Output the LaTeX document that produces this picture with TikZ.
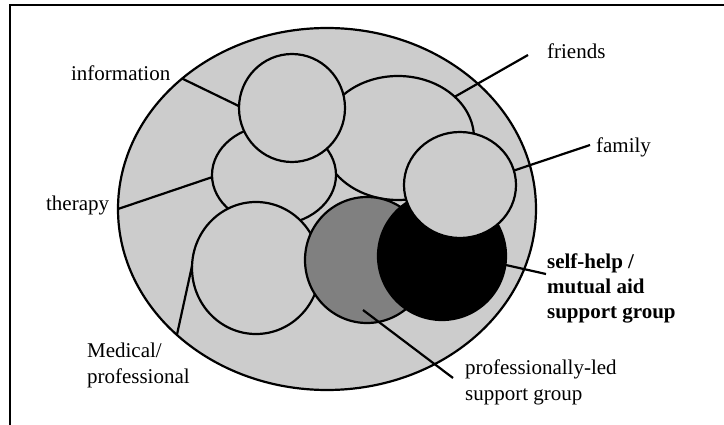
\documentclass[tikz,border=0pt]{standalone}
\usepackage{fontspec}
\setmainfont{Liberation Serif}
\usetikzlibrary{shapes.geometric}
\definecolor{pale}{gray}{0.80}
\definecolor{mid}{gray}{0.50}
\begin{document}
\begin{tikzpicture}[x=1pt,y=-1pt,line width=2.2pt,every node/.style={font=\fontsize{21}{25.5}\selectfont},blob/.style={ellipse,draw,fill=pale,inner sep=0pt,outer sep=0pt},lbl/.style={anchor=base west,inner sep=0pt,align=left}]
\useasboundingbox (0,0) rectangle (724,425);
\draw[line width=2.8pt] (10,425) -- (10,5) -- (724,5);
\node[blob,minimum width=418,minimum height=362] (whole) at (327,209) {};
\node[blob,minimum width=152,minimum height=124] (friends) at (398,138) {};
\node[blob,minimum width=124,minimum height=100] (therapy) at (274,175) {};
\node[blob,minimum width=106,minimum height=108] (info) at (292,108) {};
\node[blob,minimum width=128,minimum height=132] (medical) at (256,268) {};
\node[blob,fill=mid,minimum width=124,minimum height=126] (proled) at (367,260) {};
\node[blob,fill=black,minimum width=128,minimum height=128] (selfhelp) at (442,256) {};
\node[blob,minimum width=112,minimum height=106] (family) at (460,185) {};
\node[lbl] (infolbl) at (70,81) {information};
\node[lbl] (therlbl) at (45,211) {therapy};
\node[lbl] (frlbl) at (546,59) {friends};
\node[lbl] (famlbl) at (595,153) {family};
\node[lbl] (medlbl) at (86,383) {Medical/\\professional};
\node[lbl,font=\fontsize{21}{25.5}\selectfont\bfseries] (shlbl) at (546,319) {self-help /\\mutual aid\\support group};
\node[lbl] (pllbl) at (464,400) {professionally-led\\support group};
\coordinate (frend) at (528,55);
\coordinate (famend) at (590,145);
\coordinate (shend) at (546,274);
\coordinate (plstart) at (363,310);
\coordinate (plend) at (453,378);
\draw (whole.138.7) -- (info.178);
\draw (whole.180) -- (therapy.182);
\draw (whole.220.7) -- (medical.178);
\draw (friends.36) -- (frend);
\draw (family.15) -- (famend);
\draw (selfhelp.-8) -- (shend);
\draw (plstart) -- (plend);
\end{tikzpicture}
\end{document}
